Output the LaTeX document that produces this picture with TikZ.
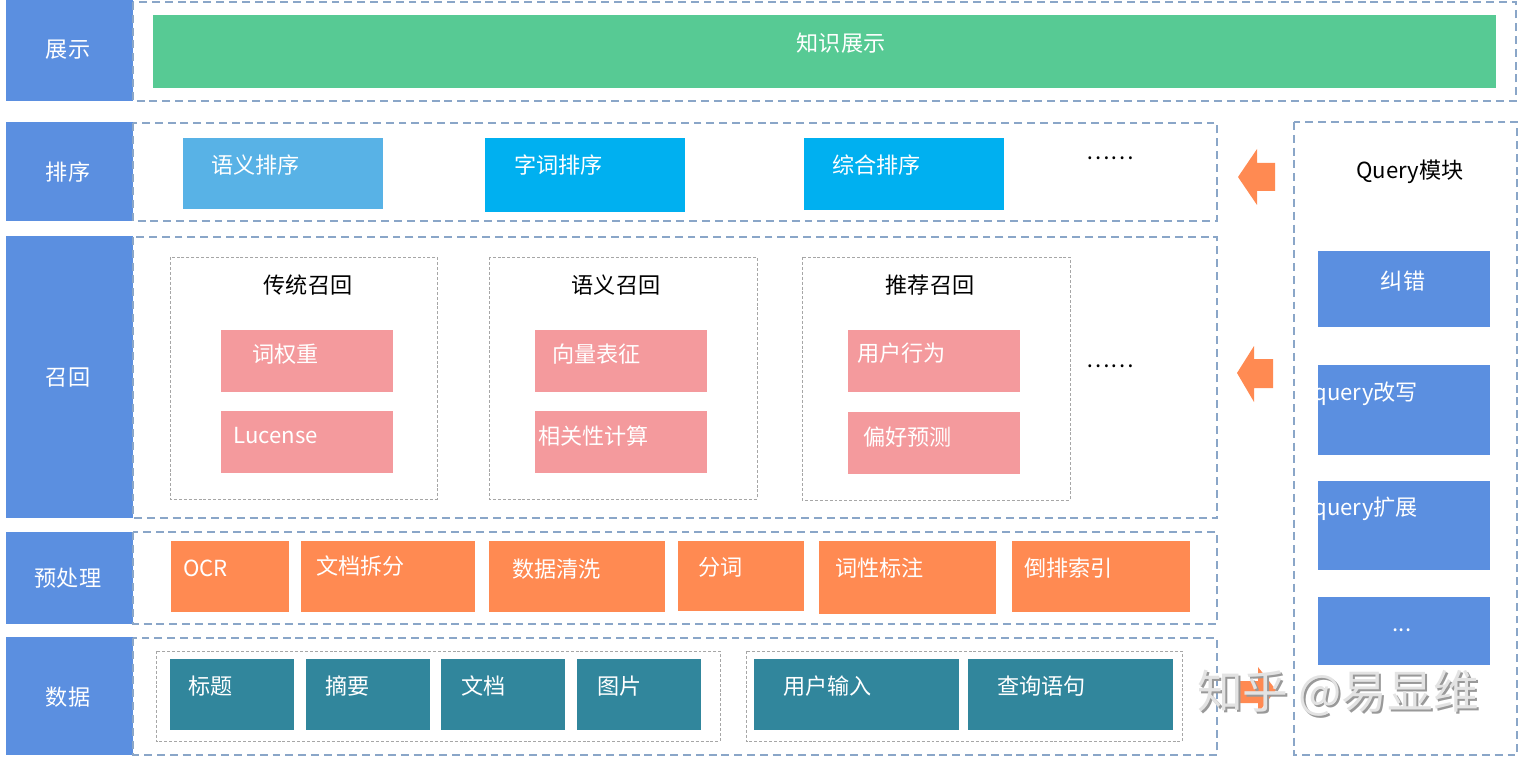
\documentclass[tikz,border=0pt]{standalone}
\usepackage{fontspec}
\setmainfont{Noto Sans CJK SC}
\usetikzlibrary{fit}

\definecolor{layblue}{HTML}{5B8FE0}
\definecolor{showgreen}{HTML}{57CA94}
\definecolor{skyA}{HTML}{58B2E6}
\definecolor{skyB}{HTML}{00B0F0}
\definecolor{recpink}{HTML}{F49A9D}
\definecolor{preorange}{HTML}{FF8A52}
\definecolor{datateal}{HTML}{31869C}
\definecolor{dashblue}{HTML}{8AA6C8}

\begin{document}
\begin{tikzpicture}[x=0.02cm,y=-0.02cm,
    every node/.style={font=\fontsize{12.6}{15}\selectfont, inner sep=0pt},
    lay/.style={fill=layblue},
    box/.style={fill=#1},
    wtxt/.style={text=white, anchor=west},
    title/.style={text=black},
    layframe/.style={draw=dashblue, line width=0.8pt, dash pattern=on 4.5pt off 2.8pt},
    grp/.style={draw=gray!70, line width=0.5pt, dash pattern=on 1.7pt off 1.1pt},
    qarrow/.style={fill=preorange}]
  \useasboundingbox (0,0) rectangle (1520,760);

  % layers
  \node[lay, fit={(6,0)(133,101)}] (zhanshi) {};
  \node[text=white] (zhanshit) at (68,50) {展示};
  \node[lay, fit={(6,122)(133,221)}] (paixu) {};
  \node[text=white] (paixut) at (68,172) {排序};
  \node[lay, fit={(6,236)(133,518)}] (zhaohui) {};
  \node[text=white] (zhaohuit) at (68,378) {召回};
  \node[lay, fit={(6,532)(133,624)}] (yuchuli) {};
  \node[text=white] (yuchulit) at (68,578) {预处理};
  \node[lay, fit={(6,637)(133,755)}] (shuju) {};
  \node[text=white] (shujut) at (68,697) {数据};

  \draw[layframe] (133,2) rectangle (1516,101);
  \draw[layframe] (133,123) rectangle (1217,221);
  \draw[layframe] (133,237) rectangle (1217,518);
  \draw[layframe] (133,532) rectangle (1217,624);
  \draw[layframe] (133,638) rectangle (1217,755);
  \draw[layframe] (1294,122) rectangle (1517,755);

  % show
  \node[box=showgreen, fit={(153,15)(1496,88)}] (zsbar) {};
  \node[text=white] (zsbart) at (841,43) {知识展示};

  % rank
  \node[box=skyA, fit={(183,138)(383,209)}] (yypx) {};
  \node[wtxt] (yypxt) at (211,165) {语义排序};
  \node[box=skyB, fit={(485,138)(685,212)}] (zcpx) {};
  \node[wtxt] (zcpxt) at (514,165) {字词排序};
  \node[box=skyB, fit={(804,138)(1004,210)}] (zhpx) {};
  \node[wtxt] (zhpxt) at (832,165) {综合排序};
  \node (pxmore) at (1110,158) {……};

  % recall
  \draw[grp] (170,257) rectangle (437,499);
  \node[title] (ctzh) at (308,285) {传统召回};
  \node[box=recpink, fit={(221,330)(393,392)}] (cqz) {};
  \node[wtxt] (cqzt) at (252,354) {词权重};
  \node[box=recpink, fit={(221,411)(393,473)}] (lucene) {};
  \node[wtxt] (lucenet) at (233,436) {Lucense};

  \draw[grp] (489,257) rectangle (757,499);
  \node[title] (yyzh) at (616,285) {语义召回};
  \node[box=recpink, fit={(535,330)(707,392)}] (xlbz) {};
  \node[wtxt] (xlbzt) at (552,354) {向量表征};
  \node[box=recpink, fit={(535,411)(707,473)}] (xgxjs) {};
  \node[wtxt] (xgxjst) at (538,436) {相关性计算};

  \draw[grp] (802,257) rectangle (1070,500);
  \node[title] (tjzh) at (930,285) {推荐召回};
  \node[box=recpink, fit={(848,330)(1020,392)}] (yhxw) {};
  \node[wtxt] (yhxwt) at (857,353) {用户行为};
  \node[box=recpink, fit={(848,412)(1020,474)}] (phyc) {};
  \node[wtxt] (phyct) at (863,437) {偏好预测};
  \node (zhmore) at (1110,366) {……};

  % preprocess
  \node[box=preorange, fit={(171,541)(289,612)}] (ocr) {};
  \node[wtxt] (ocrt) at (183,568) {OCR};
  \node[box=preorange, fit={(301,541)(475,612)}] (wdcf) {};
  \node[wtxt] (wdcft) at (316,566) {文档拆分};
  \node[box=preorange, fit={(489,541)(665,612)}] (sjqx) {};
  \node[wtxt] (sjqxt) at (512,569) {数据清洗};
  \node[box=preorange, fit={(678,541)(804,611)}] (fenci) {};
  \node[wtxt] (fencit) at (698,567) {分词};
  \node[box=preorange, fit={(819,541)(996,614)}] (cxbz) {};
  \node[wtxt] (cxbzt) at (835,568) {词性标注};
  \node[box=preorange, fit={(1012,541)(1190,612)}] (dpsy) {};
  \node[wtxt] (dpsyt) at (1024,568) {倒排索引};

  % data
  \draw[grp] (156,651) rectangle (720,741);
  \draw[grp] (746,651) rectangle (1182,741);
  \node[box=datateal, fit={(170,659)(294,730)}] (biaoti) {};
  \node[wtxt] (biaotit) at (188,686) {标题};
  \node[box=datateal, fit={(306,659)(430,730)}] (zhaiyao) {};
  \node[wtxt] (zhaiyaot) at (325,686) {摘要};
  \node[box=datateal, fit={(441,659)(565,730)}] (wendang) {};
  \node[wtxt] (wendangt) at (461,686) {文档};
  \node[box=datateal, fit={(577,659)(701,730)}] (tupian) {};
  \node[wtxt] (tupiant) at (597,686) {图片};
  \node[box=datateal, fit={(754,659)(959,730)}] (yhsr) {};
  \node[wtxt] (yhsrt) at (783,686) {用户输入};
  \node[box=datateal, fit={(968,659)(1173,730)}] (cxyj) {};
  \node[wtxt] (cxyjt) at (997,686) {查询语句};

  % query module
  \node[text=black] (qtitle) at (1410,172) {Query模块};
  \node[box=layblue, fit={(1318,251)(1490,327)}] (jiucuo) {};
  \node[text=white] (jiucuot) at (1403,281) {纠错};
  \node[box=layblue, fit={(1318,365)(1490,455)}] (gaixie) {};
  \node[wtxt] (gaixiet) at (1313,394) {query改写};
  \node[box=layblue, fit={(1318,481)(1490,570)}] (kuozhan) {};
  \node[wtxt] (kuozhant) at (1313,509) {query扩展};
  \node[box=layblue, fit={(1318,597)(1490,665)}] (qmore) {};
  \node[text=white] (qmoret) at (1402,630) {...};

  % arrows
  \fill[qarrow] (1238,177) -- (1257,149) -- (1257,163) -- (1275,163) -- (1275,191) -- (1257,191) -- (1257,205) -- cycle;
  \fill[qarrow] (1237,373) -- (1254,346) -- (1254,359) -- (1273,359) -- (1273,388) -- (1254,388) -- (1254,402) -- cycle;
  \fill[qarrow] (1276,690) -- (1258,667) -- (1258,681) -- (1238,681) -- (1238,703) -- (1258,703) -- (1258,713) -- cycle;

  % watermark
  \node[text=gray!80, font=\fontsize{26}{30}\selectfont] (wmshadow) at (1340,695) {知乎 @易显维};
  \node[text=gray!22, font=\fontsize{26}{30}\selectfont] (wm) at (1338,693) {知乎 @易显维};
\end{tikzpicture}
\end{document}
